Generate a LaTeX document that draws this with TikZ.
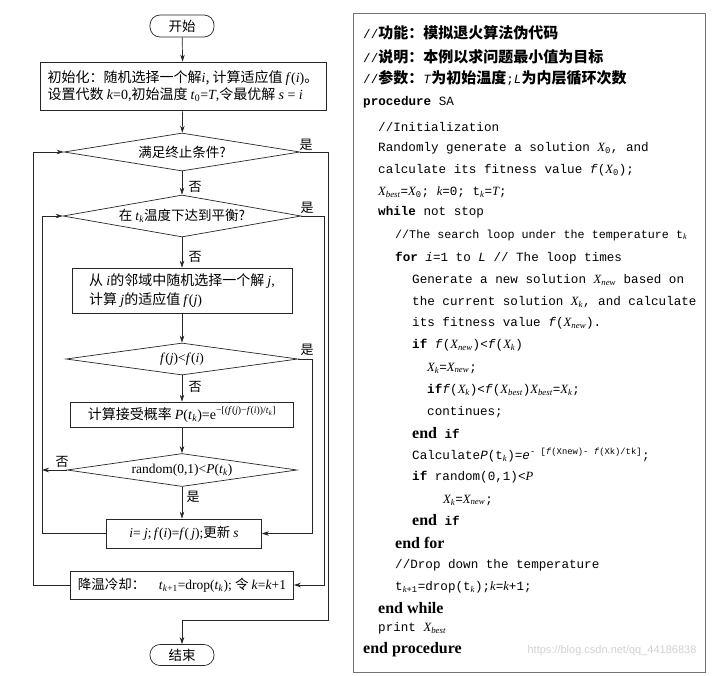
\documentclass[tikz,border=0pt]{standalone}
\usepackage{fontspec}
\setmainfont{Liberation Serif}
\setmonofont{Liberation Mono}
\newfontfamily\cjk{Noto Sans CJK SC}
\newfontfamily\wmfont{Liberation Sans}
\usetikzlibrary{arrows.meta,shapes.geometric}
\newcommand\flfont{\cjk\fontsize{13.5}{18}\selectfont}
\newcommand\codefont{\ttfamily\fontsize{12.6}{14}\selectfont}
\newcommand\m[1]{{\rmfamily #1}}
\newcommand\cj[1]{{\cjk\bfseries\fontsize{15}{17}\selectfont #1}}
\newcommand\cm[1]{{\rmfamily\itshape #1}}
\newcommand\kend[1]{{\rmfamily\bfseries\fontsize{16}{18}\selectfont #1}}
\begin{document}
\begin{tikzpicture}[x=1pt,y=-1pt,
  ln/.style={draw=black!85, line width=0.7pt},
  arr/.style={ln, -{Stealth[length=7pt,width=4.5pt]}},
  proc/.style={draw=black!85, line width=0.7pt, rectangle, inner sep=0, align=center, font=\flfont},
  term/.style={proc, rounded corners=10pt},
  dec/.style={draw=black!85, line width=0.7pt, diamond, aspect=6, inner sep=0, font=\flfont},
  lab/.style={font=\cjk\fontsize{13}{15}\selectfont, inner sep=0},
  code/.style={anchor=west, inner sep=0, font=\codefont}]
\useasboundingbox (0,0) rectangle (720,675);

% ---------- flowchart ----------
\node[term, minimum width=64pt, minimum height=22pt] (start) at (182,26) {开始};
\node[proc, minimum width=286pt, minimum height=48pt, align=left, font=\cjk\fontsize{14}{17.5}\selectfont] (init) at (183,86)
  {初始化：随机选择一个解\m{\textit{i}}, 计算适应值 \m{\textit{f}(\textit{i})}。\\
   设置代数 \m{\textit{k}=0,}初始温度 \m{\textit{t}\textsubscript{0}=\textit{T},}令最优解 \m{\textit{s} = \textit{i}}};
\node[dec, minimum width=236pt, minimum height=38pt] (d1) at (182,152) {满足终止条件?};
\node[dec, minimum width=238pt, minimum height=42pt] (d2) at (182,216)
  {在 \m{\textit{t}\textsubscript{\textit{k}}}温度下达到平衡?};
\node[proc, minimum width=220pt, minimum height=45pt, align=left, font=\cjk\fontsize{14}{19}\selectfont] (b3) at (182,290.5)
  {从 \m{\textit{i}}的邻域中随机选择一个解 \m{\textit{j},}\\ 计算 \m{\textit{j}}的适应值 \m{\textit{f}(\textit{j})}};
\node[dec, minimum width=232pt, minimum height=32pt] (d3) at (182,359)
  {\m{\textit{f}(\textit{j})<\textit{f}(\textit{i})}};
\node[proc, minimum width=223pt, minimum height=25pt, font=\cjk\fontsize{14}{17}\selectfont] (b4) at (182,414.5)
  {计算接受概率 \m{\textit{P}(\textit{t}\textsubscript{\textit{k}})=e\textsuperscript{−[(\textit{f}(\textit{j})−\textit{f}(\textit{i}))/\textit{t}\textsubscript{\textit{k}}]}}};
\node[dec, minimum width=230pt, minimum height=33pt] (d4) at (182,470)
  {\m{random(0,1)<\textit{P}(\textit{t}\textsubscript{\textit{k}})}};
\node[proc, minimum width=155pt, minimum height=29pt] (b5) at (184,533.5)
  {\m{\textit{i}= \textit{j};\,\textit{f}(\textit{i})=\textit{f}(\,\textit{j});}更新 \m{\textit{s}}};
\node[proc, minimum width=223pt, minimum height=28pt] (b6) at (182,585)
  {降温冷却：\quad\m{\textit{t}\textsubscript{\textit{k}+1}=drop(\textit{t}\textsubscript{\textit{k}}); }令 \m{\textit{k}=\textit{k}+1}};
\node[term, minimum width=64pt, minimum height=21pt] (end) at (182,655) {结束};

\coordinate (oR) at (328,620);
\coordinate (iL) at (42,533.5);

\draw[arr] (start) -- (init);
\draw[arr] (init) -- (d1);
\draw[arr] (d1) -- (d2);
\draw[arr] (d2) -- (b3);
\draw[arr] (b3) -- (d3);
\draw[arr] (d3) -- (b4);
\draw[arr] (b4) -- (d4);
\draw[arr] (d4.south) -- (d4.south |- b5.north);
% outer loop
\draw[arr] (b6.west) -- ++(-37,0) |- (d1.west);
\draw[arr] (d1.east) -| (oR) -| (end.north);
% temperature equilibrium yes
\draw[arr] (d2.east) -| ([xshift=30pt]b6.east) -- (b6.east);
% inner loop
\draw[arr] (b5.west) -- (iL) |- (d2.west);
\draw[arr] (d3.east) -| ([xshift=50pt]b5.east) -- (b5.east);
\draw[arr] (d4.west) -- (d4.west -| iL);

\node[lab] (y1) at (306,145) {是};
\node[lab] (y2) at (307,208) {是};
\node[lab] (y3) at (307,350) {是};
\node[lab] (n1) at (195,187) {否};
\node[lab] (n2) at (195,257) {否};
\node[lab] (n3) at (195,387) {否};
\node[lab] (n4) at (62,462) {否};
\node[lab] (y4) at (193,497) {是};

% ---------- pseudocode ----------
\node[draw=black!55, line width=0.9pt, minimum width=352pt, minimum height=659pt, anchor=north west, inner sep=0] (frame) at (353,13) {};

\node[code] (c1) at (363,33) {//\cj{功能：模拟退火算法伪代码}};
\node[code] (c2) at (363,57) {//\cj{说明：本例以求问题最小值为目标}};
\node[code] (c3) at (363,78) {//\cj{参数：}\textit{T}\cj{为初始温度};\textit{L}\cj{为内层循环次数}};
\node[code] (c4) at (363,102) {\textbf{procedure} SA};
\node[code] (c5) at (378,127) {//Initialization};
\node[code] (c6) at (378,148) {Randomly generate a solution \cm{X}\textsubscript{0}, and};
\node[code] (c7) at (378,170) {calculate its fitness value \textit{f}(\cm{X}\textsubscript{0});};
\node[code] (c8) at (378,192) {\cm{X}\textsubscript{\cm{best}}=\cm{X}\textsubscript{0}; \cm{k}=0; t\textsubscript{\cm{k}}=\cm{T};};
\node[code] (c9) at (378,212) {\textbf{while} not stop};
\node[code, font=\ttfamily\fontsize{11.7}{14}\selectfont] (c10) at (395,235) {//The search loop under the temperature t\textsubscript{\cm{k}}};
\node[code] (c11) at (395,258) {\textbf{for} \textit{i}=1 to \textit{L} // The loop times};
\node[code] (c12) at (412,280) {Generate a new solution \cm{X}\textsubscript{\cm{new}} based on};
\node[code] (c13) at (412,302) {the current solution \cm{X}\textsubscript{\cm{k}}, and calculate};
\node[code] (c14) at (412,323) {its fitness value \textit{f}(\cm{X}\textsubscript{\cm{new}}).};
\node[code] (c15) at (412,345) {\textbf{if} \textit{f}(\cm{X}\textsubscript{\cm{new}})<\textit{f}(\cm{X}\textsubscript{\cm{k}})};
\node[code] (c16) at (427,368) {\cm{X}\textsubscript{\cm{k}}=\cm{X}\textsubscript{\cm{new}};};
\node[code] (c17) at (427,390) {\textbf{if}\textit{f}(\cm{X}\textsubscript{\cm{k}})<\textit{f}(\cm{X}\textsubscript{\cm{best}})\cm{X}\textsubscript{\cm{best}}=\cm{X}\textsubscript{\cm{k}};};
\node[code] (c18) at (427,412) {continues;};
\node[code] (c19) at (412,433) {\kend{end} \textbf{if}};
\node[code] (c20) at (412,455) {Calculate\textit{P}(t\textsubscript{\cm{k}})=\textit{e}\textsuperscript{- [\textit{f}(Xnew)- \textit{f}(Xk)/tk]};};
\node[code] (c21) at (412,477) {\textbf{if} random(0,1)<\cm{P}};
\node[code] (c22) at (443,500) {\cm{X}\textsubscript{\cm{k}}=\cm{X}\textsubscript{\cm{new}};};
\node[code] (c23) at (412,520) {\kend{end} \textbf{if}};
\node[code] (c24) at (395,543) {\kend{end for}};
\node[code] (c25) at (395,565) {//Drop down the temperature};
\node[code] (c26) at (395,587) {t\textsubscript{\cm{k}+1}=drop(t\textsubscript{\cm{k}});\cm{k}=\cm{k}+1;};
\node[code] (c27) at (378,608) {\kend{end while}};
\node[code] (c28) at (378,628) {print \cm{X}\textsubscript{\cm{best}}};
\node[code] (c29) at (363,650) {\kend{end procedure}};

\node[font=\wmfont\fontsize{11}{13}\selectfont, text=black!18, inner sep=0] (wm) at (612,651) {https://blog.csdn.net/qq\_44186838};
\end{tikzpicture}
\end{document}
